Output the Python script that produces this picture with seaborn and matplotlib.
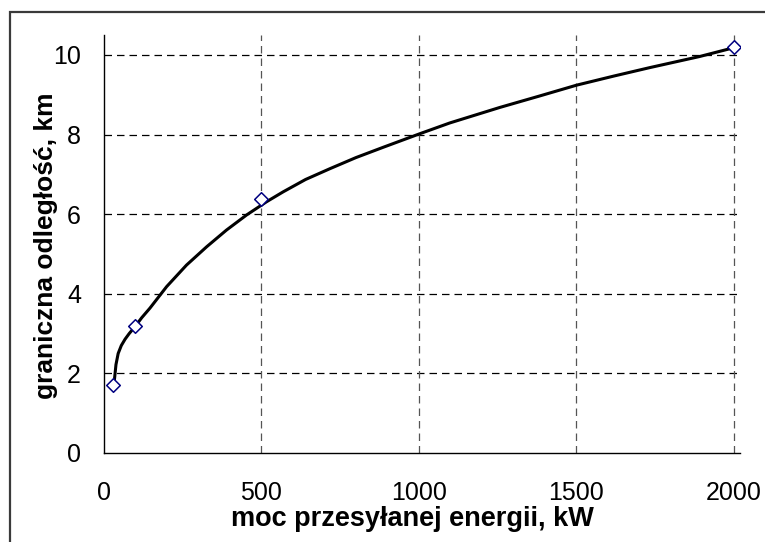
import matplotlib
matplotlib.use("Agg")
import matplotlib.pyplot as plt
import seaborn as sns
import pandas as pd
from matplotlib.patches import Rectangle

# Measured data points
power_kw = [30, 100, 500, 2000]
distance_km = [1.71, 3.19, 6.38, 10.19]

# Smoothed trend curve
curve_kw = [33, 38, 45, 55, 67, 80, 98, 120, 146, 199, 262, 326, 389, 453, 516, 569,
            640, 717, 800, 887, 1003, 1098, 1257, 1380, 1501, 1620, 1733, 1892, 2000]
curve_km = [1.83, 2.22, 2.50, 2.70, 2.86, 3.00, 3.17, 3.40, 3.64, 4.18, 4.72, 5.18, 5.60, 5.98, 6.31, 6.56,
            6.87, 7.14, 7.42, 7.68, 8.02, 8.29, 8.68, 8.96, 9.24, 9.47, 9.68, 9.96, 10.18]

x_ticks = [0, 500, 1000, 1500, 2000]
y_ticks = [0, 2, 4, 6, 8, 10]

sns.set_style("white")
plt.rcParams["font.family"] = ["Liberation Sans", "DejaVu Sans"]
plt.rcParams["text.color"] = "black"
plt.rcParams["axes.labelcolor"] = "black"

fig = plt.figure(figsize=(7.65, 5.42), dpi=100)
ax = fig.add_axes([104 / 765, 1 - 453 / 542, 636 / 765, 418 / 542])

# outer chart frame
fig.patches.append(Rectangle((10 / 765, -0.05), 1.2, 1 - 12 / 542 + 0.05,
                             transform=fig.transFigure, fill=False,
                             edgecolor="#3a3a3a", linewidth=1.6, zorder=0))

curve = pd.DataFrame({"x": curve_kw, "y": curve_km})
points = pd.DataFrame({"x": power_kw, "y": distance_km})

sns.lineplot(data=curve, x="x", y="y", ax=ax, color="black", linewidth=2.2,
             sort=False, zorder=3)
sns.scatterplot(data=points, x="x", y="y", ax=ax, marker="D", s=48,
                facecolor="white", edgecolor="#000080", linewidth=1.1, zorder=4)

ax.set_xlim(0, 2020)
ax.set_ylim(0, 10.5)
ax.set_xticks(x_ticks)
ax.set_yticks(y_ticks)

for yv in y_ticks[1:]:
    ax.axhline(yv, color="black", linestyle=(0, (6, 4)), linewidth=0.9, zorder=1)
for xv in x_ticks[1:]:
    ax.axvline(xv, color="#555555", linestyle=(0, (6, 4)), linewidth=0.9, zorder=1)

for side in ["top", "right"]:
    ax.spines[side].set_visible(False)
for side in ["left", "bottom"]:
    ax.spines[side].set_color("black")
    ax.spines[side].set_linewidth(1.0)

ax.tick_params(axis="both", direction="out", length=6.5, width=1.0, color="black",
               labelsize=18, labelcolor="black")
ax.tick_params(axis="x", pad=14)
ax.tick_params(axis="y", pad=10)

ax.set_xlabel("moc przesyłanej energii, kW", fontsize=19.5, fontweight="bold", color="black")
ax.set_ylabel("graniczna odległość, km", fontsize=19, fontweight="bold", color="black")
ax.xaxis.set_label_coords((412 - 104) / 636, -(506 - 453) / 418)
ax.yaxis.set_label_coords(-(104 - 58) / 636, (453 - 246) / 418)

fig.savefig("out.png", dpi=100)
